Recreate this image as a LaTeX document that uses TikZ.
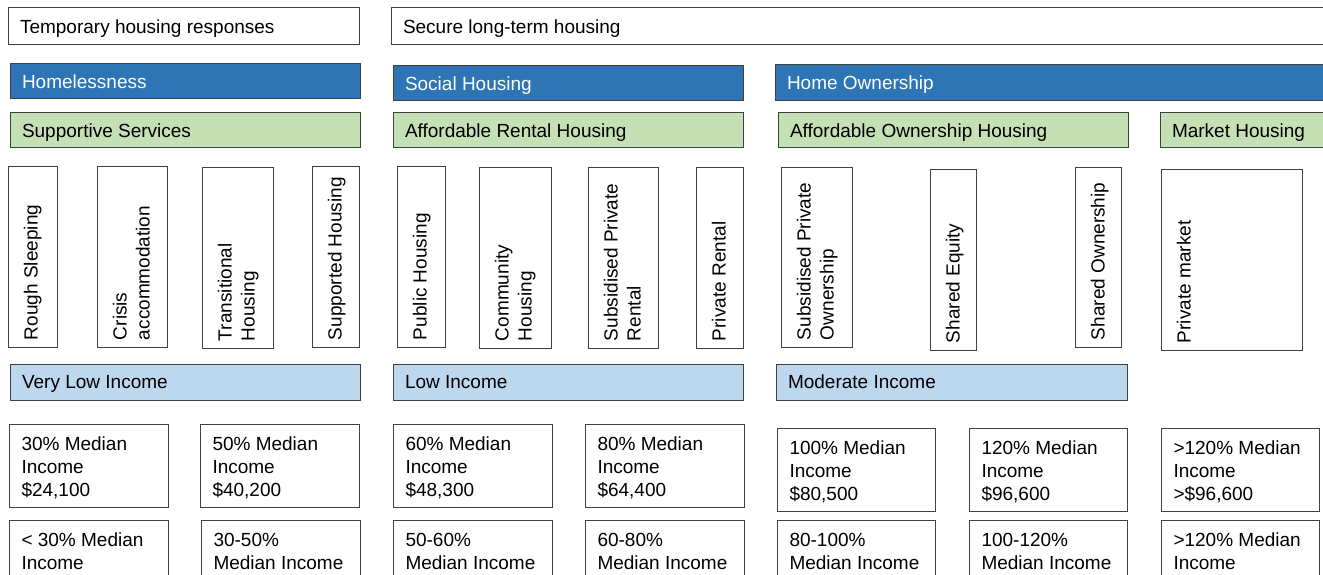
\documentclass[tikz,border=0pt]{standalone}
\usepackage{fontspec}
\setmainfont{Liberation Sans}
\definecolor{edge}{RGB}{64,64,64}
\definecolor{headblue}{RGB}{46,117,182}
\definecolor{tiergreen}{RGB}{197,224,180}
\definecolor{bandblue}{RGB}{189,215,238}

% \panel{name}{style}{left}{top}{right}{bottom}
\newcommand\panel[6]{%
  \node[#2, minimum width={(#5-(#3))*1pt}, minimum height={(#6-(#4))*1pt}]
    (#1) at ({(#3+#5)/2},{(#4+#6)/2}) {};}
% single-line caption, left aligned and centred vertically
\newcommand\hcap[3]{%
  \node[#2, anchor=base west] (#1-t) at ([xshift=12pt,yshift=-6.8pt]#1.west) {#3};}
% caption read bottom to top inside a tall box
\newcommand\vcap[2]{%
  \node[vtxt, anchor=north west] (#1-t) at ([xshift=15.5pt,yshift=7pt]#1.south west)
    {\rule{0pt}{14pt}#2};}
% multi-line caption in the top left corner
\newcommand\mcap[2]{%
  \node[txt, anchor=north west] (#1-t) at ([xshift=12.5pt,yshift=-12pt]#1.north west)
    {\rule{0pt}{14pt}#2};}

\begin{document}
\begin{tikzpicture}[x=1pt,y=-1pt,
  panel/.style={draw=edge,line width=1pt,inner sep=0pt,outer sep=0pt,rectangle},
  plain/.style={panel,fill=white},
  heading/.style={panel,fill=headblue},
  tier/.style={panel,fill=tiergreen},
  band/.style={panel,fill=bandblue},
  txt/.style={inner sep=0pt,outer sep=0pt,font={\fontsize{19}{23}\selectfont},align=left,text=black},
  wtxt/.style={txt,text=white},
  vtxt/.style={txt,rotate=90},
]
\useasboundingbox (0,0) rectangle (1323,575);
\clip (0,0) rectangle (1323,575);
\fill[white] (0,0) rectangle (1323,575);

% housing continuum
\panel{tmp}{plain}{8}{8}{359}{45}
\hcap{tmp}{txt}{Temporary housing responses}
\panel{sec}{plain}{391}{8}{1340}{45}
\hcap{sec}{txt}{Secure long-term housing}

% tenure groups
\panel{homeless}{heading}{10}{64}{360}{99}
\hcap{homeless}{wtxt}{Homelessness}
\panel{social}{heading}{393}{66}{743}{101}
\hcap{social}{wtxt}{Social Housing}
\panel{homeown}{heading}{775}{65}{1340}{101}
\hcap{homeown}{wtxt}{Home Ownership}

% service tiers
\panel{supp}{tier}{10}{113}{360}{148}
\hcap{supp}{txt}{Supportive Services}
\panel{afr}{tier}{393}{113}{743}{148}
\hcap{afr}{txt}{Affordable Rental Housing}
\panel{afo}{tier}{778}{113}{1128}{148}
\hcap{afo}{txt}{Affordable Ownership Housing}
\panel{mkt}{tier}{1160}{113}{1340}{148}
\hcap{mkt}{txt}{Market Housing}

% housing types
\panel{rough}{plain}{8}{167}{57}{347}
\vcap{rough}{Rough Sleeping}
\panel{crisis}{plain}{97}{167}{167}{347}
\vcap{crisis}{Crisis\\accommodation}
\panel{trans}{plain}{202}{168}{273}{348}
\vcap{trans}{Transitional\\Housing}
\panel{supported}{plain}{312}{167}{359}{347}
\vcap{supported}{Supported Housing}
\panel{public}{plain}{397}{167}{445}{347}
\vcap{public}{Public Housing}
\panel{community}{plain}{479}{168}{551}{348}
\vcap{community}{Community\\Housing}
\panel{spr}{plain}{588}{168}{658}{348}
\vcap{spr}{Subsidised Private\\Rental}
\panel{prental}{plain}{696}{168}{743}{348}
\vcap{prental}{Private Rental}
\panel{spo}{plain}{781}{168}{852}{347}
\vcap{spo}{Subsidised Private\\Ownership}
\panel{seq}{plain}{930}{170}{976}{350}
\vcap{seq}{Shared Equity}
\panel{sown}{plain}{1075}{168}{1121}{347}
\vcap{sown}{Shared Ownership}
\panel{pmarket}{plain}{1161}{170}{1302}{350}
\vcap{pmarket}{Private market}

% income bands
\panel{vli}{band}{10}{364}{360}{400}
\hcap{vli}{txt}{Very Low Income}
\panel{li}{band}{393}{364}{743}{400}
\hcap{li}{txt}{Low Income}
\panel{mi}{band}{776}{364}{1127}{400}
\hcap{mi}{txt}{Moderate Income}

% income thresholds
\panel{i30}{plain}{9}{424}{168}{507}
\mcap{i30}{30\% Median\\Income\\\$24,100}
\panel{i50}{plain}{200}{424}{359}{507}
\mcap{i50}{50\% Median\\Income\\\$40,200}
\panel{i60}{plain}{393}{424}{552}{507}
\mcap{i60}{60\% Median\\Income\\\$48,300}
\panel{i80}{plain}{585}{424}{744}{507}
\mcap{i80}{80\% Median\\Income\\\$64,400}
\panel{i100}{plain}{777}{428}{935}{511}
\mcap{i100}{100\% Median\\Income\\\$80,500}
\panel{i120}{plain}{969}{428}{1127}{511}
\mcap{i120}{120\% Median\\Income\\\$96,600}
\panel{igt}{plain}{1161}{428}{1319}{511}
\mcap{igt}{>120\% Median\\Income\\>\$96,600}

% income ranges
\panel{r30}{plain}{9}{520}{168}{600}
\mcap{r30}{< 30\% Median\\Income}
\panel{r3050}{plain}{201}{520}{360}{600}
\mcap{r3050}{30-50\%\\Median Income}
\panel{r5060}{plain}{393}{520}{552}{600}
\mcap{r5060}{50-60\%\\Median Income}
\panel{r6080}{plain}{585}{520}{744}{600}
\mcap{r6080}{60-80\%\\Median Income}
\panel{r80100}{plain}{777}{520}{935}{600}
\mcap{r80100}{80-100\%\\Median Income}
\panel{r100120}{plain}{969}{520}{1127}{600}
\mcap{r100120}{100-120\%\\Median Income}
\panel{rgt}{plain}{1161}{520}{1319}{600}
\mcap{rgt}{>120\% Median\\Income}
\end{tikzpicture}
\end{document}
